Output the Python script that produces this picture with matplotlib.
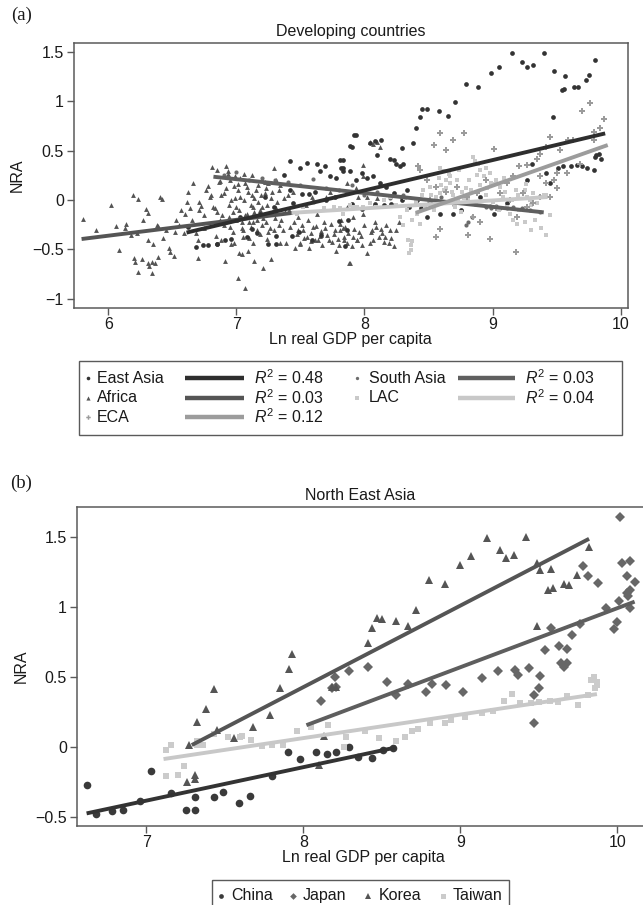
import matplotlib
matplotlib.use("Agg")
import matplotlib.pyplot as plt
from matplotlib.patches import Rectangle

plt.rcParams['font.family'] = ['Liberation Sans', 'DejaVu Sans']
plt.rcParams['mathtext.fontset'] = 'custom'
plt.rcParams['mathtext.rm'] = 'Liberation Sans'
plt.rcParams['mathtext.it'] = 'Liberation Sans:italic'

# ---------------- Panel (a) data ----------------
africa_x = [5.80,5.90,6.02,6.08,6.06,6.14,6.13,6.19,6.23,6.22,6.18,6.20,6.26,6.21,6.23,6.31,6.34,6.32,6.34,6.36,
            6.39,6.29,6.31,6.31,6.38,6.39,6.40,6.42,6.47,6.48,6.51,6.52,6.55,6.59,6.60,6.61,6.62,6.65,6.66,6.68,
            6.70,6.70,6.71,6.71,6.75,6.75,6.78,6.79,6.81,6.82,6.84,6.85,6.87,6.87,6.88,6.90,6.91,6.92,6.93,6.94,
            6.95,6.96,6.98,6.98,6.99,7.00,7.01,7.02,7.03,7.04,7.05,7.07,7.07,7.08,7.09,7.11,7.12,7.13,7.13,7.14,
            7.16,7.17,7.18,7.20,7.20,7.21,7.22,7.23,7.24,7.25,7.26,7.27,7.29,7.29,7.31,7.33,7.34,7.35,7.37,7.39,
            7.41,7.42,7.44,7.46,7.47,7.48,7.50,7.52,7.54,7.55,7.57,7.59,7.60,7.61,7.63,7.65,7.67,7.68,7.70,7.72,
            7.73,7.76,7.78,7.80,7.81,7.84,7.86,7.88,7.90,7.91,7.94,7.95,
            6.85,6.88,6.90,6.92,6.94,6.95,6.97,6.99,7.00,7.01,7.02,7.03,7.05,7.06,7.07,7.08,7.10,7.11,7.12,7.13,
            7.15,7.16,7.18,7.19,7.21,7.22,7.24,7.26,7.28,7.30,7.32,7.34,7.36,7.38,7.40,6.96,7.04,7.09,7.14,7.27,
            7.81,7.84,7.86,7.89,7.91,7.94,7.96,7.99,8.02,8.04,8.07,8.09,8.11,8.13,8.16,8.19,8.20,8.23,7.99,7.99,
            8.04,8.07,8.10,8.12,7.86,7.93,8.02,8.10,
            7.45,7.48,7.51,7.53,7.56,7.58,7.62,7.64,7.66,7.69,7.71,7.74,7.77,7.79,7.82,7.85,7.87,7.92,7.97,8.00,
            8.05,8.08,8.14,8.17,8.21,8.25,8.27,7.50,7.58,7.66,7.75,7.83,7.98,8.06,8.15,
            6.80,6.83,6.86,6.89,6.93,6.97,7.01,7.04,7.06,7.10,7.14,7.17,7.20,7.23,7.25,7.28,7.31,7.33,6.72,6.76,
            6.64,6.57,6.53,6.45,6.43,6.35,6.27]
africa_y = [-0.19,-0.30,-0.05,-0.51,-0.26,-0.24,-0.28,0.05,0.01,-0.33,-0.35,-0.59,-0.60,-0.63,-0.73,-0.64,-0.63,-0.67,-0.74,-0.64,
            -0.58,-0.09,-0.13,-0.40,-0.25,-0.26,0.03,0.01,-0.49,-0.53,-0.57,-0.32,-0.25,-0.33,-0.14,-0.02,0.08,-0.20,0.17,-0.33,
            -0.41,-0.59,-0.02,-0.10,-0.15,-0.28,0.14,0.03,0.33,-0.07,-0.36,0.30,-0.20,0.19,-0.41,0.07,-0.62,0.34,0.29,-0.17,
            -0.27,0.00,0.14,-0.44,0.24,-0.07,-0.79,-0.54,0.03,-0.22,-0.37,-0.89,0.17,-0.14,0.08,-0.27,0.25,-0.07,-0.44,0.02,
            -0.20,0.15,-0.34,0.20,-0.07,-0.69,0.07,-0.22,-0.39,0.17,-0.14,0.02,0.32,-0.30,-0.08,0.10,-0.44,-0.20,0.02,-0.44,
            -0.10,-0.27,0.08,-0.49,-0.34,-0.17,-0.44,-0.30,-0.05,-0.37,-0.49,0.03,-0.27,-0.41,-0.14,-0.36,-0.46,-0.22,0.03,-0.41,
            0.08,-0.34,-0.52,-0.46,-0.24,-0.37,-0.07,-0.64,-0.47,-0.17,-0.41,0.03,
            -0.12,0.05,-0.25,0.12,-0.05,0.20,-0.32,0.02,-0.20,0.10,-0.10,0.22,-0.30,0.00,-0.15,0.13,-0.38,-0.05,0.05,-0.22,
            0.10,-0.30,-0.10,0.05,-0.18,0.18,-0.05,-0.28,0.08,-0.18,-0.02,0.15,-0.30,-0.12,0.05,-0.45,-0.55,-0.52,-0.62,-0.60,
            -0.30,-0.41,-0.44,-0.64,-0.37,-0.41,-0.32,-0.14,-0.54,-0.44,-0.41,-0.27,-0.37,-0.29,-0.37,-0.44,-0.30,-0.47,0.24,0.35,
            0.59,0.57,0.59,0.54,0.17,0.12,0.03,0.02,
            -0.22,-0.30,-0.25,-0.38,-0.20,-0.33,-0.26,-0.40,-0.31,-0.28,-0.35,-0.24,-0.30,-0.39,-0.20,-0.27,-0.33,-0.29,-0.36,-0.25,
            -0.32,-0.22,-0.33,-0.25,-0.38,-0.30,-0.22,-0.45,-0.42,-0.35,-0.43,-0.28,-0.46,-0.30,-0.43,
            0.05,-0.08,0.18,-0.15,0.26,-0.12,0.16,-0.28,0.26,-0.22,-0.12,-0.02,-0.25,0.12,-0.32,-0.12,0.20,-0.25,-0.06,0.10,
            -0.08,-0.10,-0.20,-0.30,-0.38,-0.45,-0.20]

eastasia_x = [9.15,9.40,9.23,9.27,9.32,9.05,8.99,9.48,9.57,9.80,9.75,9.73,9.54,9.56,9.64,9.67,8.79,8.89,8.71,8.45,
              8.49,8.58,8.65,8.43,8.40,9.47,8.38,8.29,7.93,7.90,8.04,8.08,8.13,8.10,8.20,8.23,8.25,8.30,8.28,9.79,
              9.74,9.80,9.83,9.85,9.81,9.66,9.70,9.61,9.55,9.51,9.31,9.45,7.81,7.82,7.83,7.89,7.93,7.98,8.02,8.07,
              8.12,8.17,8.23,8.29,8.33,8.41,8.49,8.59,8.69,8.75,8.90,9.01,9.11,9.27,9.42,
              7.42,7.55,7.63,7.69,7.83,7.83,7.89,7.92,7.50,7.65,7.73,7.78,7.37,7.42,7.51,7.57,7.61,7.44,7.60,7.70,
              7.77,7.87,7.86,7.85,7.18,7.22,7.29,7.08,7.12,6.74,6.85,6.91,
              6.62,6.68,6.78,6.85,6.96,7.03,7.16,7.25,7.31,7.31,7.43,7.49,7.59,7.66,7.80,7.90,7.98,8.08,8.15,8.21,
              8.29,8.35,8.44,8.51,8.57]
eastasia_y = [1.49,1.49,1.40,1.35,1.37,1.35,1.29,1.31,1.26,1.42,1.27,1.22,1.11,1.12,1.15,1.15,1.18,1.15,0.99,0.92,
              0.92,0.90,0.85,0.84,0.73,0.84,0.58,0.53,0.66,0.54,0.58,0.60,0.61,0.46,0.42,0.41,0.36,0.37,0.34,0.30,
              0.32,0.44,0.47,0.42,0.46,0.35,0.34,0.34,0.34,0.32,0.37,0.17,0.41,0.32,0.29,0.29,0.20,0.27,0.22,0.24,
              0.17,0.13,0.07,0.03,0.10,0.00,-0.17,-0.14,-0.14,-0.10,0.03,-0.14,-0.03,0.20,0.27,
              0.40,0.38,0.37,0.34,0.41,0.32,0.55,0.66,0.32,0.29,0.24,0.22,0.25,0.10,0.06,0.06,0.08,-0.03,-0.02,0.00,
              0.03,-0.20,-0.30,-0.47,-0.14,0.03,-0.07,-0.37,-0.29,-0.46,-0.45,-0.41,
              -0.27,-0.48,-0.46,-0.45,-0.39,-0.17,-0.33,-0.45,-0.45,-0.36,-0.36,-0.32,-0.40,-0.35,-0.21,-0.04,-0.09,-0.04,-0.05,-0.04,
              0.00,-0.07,-0.08,-0.02,-0.01]

southasia_x = [8.79,8.81,8.84,8.95,8.98,8.99,9.03,9.06,9.11,9.16,9.23,9.29,9.37,7.20,7.30,7.40,7.50,7.60,7.70,7.80,
               7.90,8.00,8.10,8.20,8.30,8.40,8.50,8.60,8.70,6.90,7.00,7.10]
southasia_y = [-0.25,-0.22,-0.17,-0.07,-0.06,-0.08,-0.06,-0.08,-0.08,-0.07,-0.08,-0.10,-0.12,0.22,0.20,0.18,0.15,0.21,0.12,0.10,
               0.15,0.05,0.08,0.02,0.05,0.00,-0.02,0.03,-0.05,0.25,0.28,0.20]

lac_x = [8.34,8.36,8.36,8.35,8.37,8.28,8.30,8.33,8.37,8.41,8.43,8.47,8.50,8.54,8.56,8.59,8.62,8.64,8.67,8.69,
         8.71,8.73,8.76,8.79,8.81,8.85,8.86,8.89,8.90,8.93,8.95,8.98,8.99,9.03,9.06,9.08,9.11,9.14,9.16,9.19,
         9.21,9.25,9.27,9.29,9.32,9.35,9.37,9.40,9.42,8.59,8.62,8.64,8.67,8.46,8.51,8.20,8.15,8.09,8.04,7.99,
         7.94,7.89,7.81,7.47,7.52,7.60,7.68,7.76,7.83,7.91,9.33,9.38,9.42,9.45,9.30,
         8.52,8.55,8.60,8.63,8.68,8.72,8.75,8.78,8.83,8.87,8.90,8.95,9.00,9.05,9.10,9.15,9.20,9.25,9.30,
         8.58,8.66,8.74,8.82,8.88,8.96,9.02,9.09,9.18,9.26,8.45,8.40,8.32,8.25]
lac_y = [-0.41,-0.46,-0.51,-0.54,-0.42,-0.17,-0.25,-0.10,-0.20,-0.14,-0.24,-0.07,0.00,-0.10,0.03,0.07,0.10,0.12,0.17,0.05,
         -0.07,0.00,0.08,0.12,0.00,0.44,0.40,0.37,0.30,0.24,0.32,0.27,0.17,0.20,0.13,0.03,-0.07,-0.14,-0.20,-0.24,
         -0.10,-0.22,0.03,0.00,0.07,-0.03,0.03,0.05,0.05,0.32,0.29,0.20,0.24,0.10,0.13,0.03,0.00,-0.07,-0.03,-0.07,
         -0.07,-0.05,-0.08,-0.14,-0.07,-0.03,-0.08,-0.07,-0.14,-0.07,-0.20,-0.28,-0.35,-0.15,-0.30,
         0.05,-0.05,0.15,-0.02,0.08,0.20,-0.12,0.02,0.10,-0.05,0.15,0.05,-0.02,-0.10,0.08,0.00,0.05,0.10,-0.05,
         0.22,0.26,0.30,0.20,0.25,0.12,0.16,0.22,0.10,0.16,0.05,-0.02,0.02,-0.05]

eca_x = [8.59,8.78,8.69,8.64,8.54,8.42,9.01,9.76,9.70,9.87,9.84,9.79,9.63,9.59,9.45,9.53,9.42,9.37,9.35,9.27,
         9.21,9.50,9.45,9.37,9.32,9.27,9.19,9.18,8.98,8.90,8.85,8.81,8.56,8.59,9.06,9.11,9.16,8.95,8.88,8.80,
         8.72,8.64,8.56,8.49,8.43,8.51,9.03,9.14,9.24,9.37,9.42,9.48,9.58,9.68,9.79,9.50]
eca_y = [0.675,0.675,0.61,0.51,0.56,0.34,0.52,0.98,0.90,0.82,0.73,0.69,0.61,0.61,0.64,0.51,0.54,0.47,0.42,0.35,
         0.34,0.12,0.03,0.03,-0.03,-0.07,-0.17,-0.53,-0.39,-0.22,-0.17,-0.35,-0.37,-0.29,0.07,0.17,0.24,0.20,0.07,0.03,
         0.13,0.08,0.13,0.20,0.30,0.00,-0.08,0.00,0.07,0.24,0.17,0.20,0.27,0.37,0.61,0.27]

# fitted lines (endpoints)
fit_ea_x, fit_ea_y = [6.61, 9.88], [-0.33, 0.675]
fit_af_x, fit_af_y = [5.79, 7.44], [-0.395, -0.13]
fit_sa_x, fit_sa_y = [6.82, 9.40], [0.236, -0.125]
fit_lac_x, fit_lac_y = [7.43, 9.43], [-0.13, 0.03]
fit_eca_x, fit_eca_y = [8.40, 9.90], [-0.13, 0.557]

# ---------------- Panel (b) data ----------------
china_x = [6.62,6.68,6.78,6.85,6.96,7.03,7.16,7.25,7.31,7.31,7.43,7.49,7.59,7.66,7.80,7.90,7.98,8.08,8.15,8.21,
           8.29,8.35,8.44,8.51,8.57]
china_y = [-0.27,-0.48,-0.46,-0.45,-0.39,-0.17,-0.33,-0.45,-0.45,-0.36,-0.36,-0.32,-0.40,-0.35,-0.21,-0.04,-0.09,-0.04,-0.05,-0.04,
           0.00,-0.07,-0.08,-0.02,-0.01]
japan_x = [8.11,8.18,8.20,8.21,8.29,8.41,8.53,8.59,8.67,8.78,8.82,8.91,9.02,9.14,9.24,9.35,9.37,9.44,9.47,9.47,
           9.50,9.51,9.54,9.58,9.63,9.64,9.66,9.68,9.68,9.71,9.76,9.78,9.81,9.88,9.93,9.98,10.00,10.01,10.02,10.03,
           10.06,10.06,10.07,10.08,10.08,10.08,10.11]
japan_y = [0.33,0.42,0.50,0.43,0.54,0.57,0.46,0.37,0.45,0.39,0.45,0.44,0.39,0.49,0.54,0.55,0.51,0.56,0.17,0.37,
           0.42,0.505,0.69,0.85,0.72,0.595,0.57,0.595,0.695,0.80,0.88,1.29,1.22,1.17,0.99,0.84,0.89,1.04,1.64,1.31,
           1.22,1.10,1.08,1.33,1.12,0.99,1.18]
korea_x = [7.26,7.27,7.31,7.31,7.32,7.38,7.43,7.45,7.56,7.68,7.79,7.85,7.91,7.93,8.10,8.13,8.18,8.21,8.41,8.44,
           8.47,8.50,8.59,8.67,8.72,8.80,8.90,9.00,9.065,9.17,9.25,9.29,9.34,9.42,9.49,9.49,9.51,9.58,9.56,9.59,
           9.66,9.69,9.74,9.82]
korea_y = [-0.25,0.01,-0.20,-0.23,0.18,0.27,0.41,0.12,0.06,0.14,0.23,0.42,0.555,0.665,-0.13,0.08,0.43,0.43,0.74,0.845,
           0.92,0.915,0.90,0.86,0.98,1.19,1.16,1.30,1.36,1.49,1.405,1.35,1.37,1.495,1.31,0.86,1.26,1.27,1.12,1.135,
           1.165,1.155,1.225,1.43]
taiwan_x = [7.125,7.16,7.125,7.20,7.24,7.32,7.32,7.36,7.43,7.52,7.595,7.61,7.67,7.74,7.80,7.87,7.96,8.05,8.16,8.27,
            8.26,8.39,8.48,8.59,8.65,8.69,8.73,8.81,8.90,8.94,9.03,9.14,9.21,9.28,9.33,9.38,9.45,9.50,9.57,9.62,
            9.68,9.75,9.81,9.83,9.85,9.86,9.87,9.87]
taiwan_y = [-0.02,0.01,-0.21,-0.20,-0.14,0.04,0.01,0.01,0.09,0.07,0.07,0.08,0.05,0.005,0.01,0.01,0.11,0.14,0.155,0.07,
            0.00,0.11,0.06,0.04,0.07,0.11,0.13,0.17,0.17,0.19,0.21,0.24,0.255,0.33,0.38,0.31,0.31,0.32,0.33,0.32,
            0.36,0.30,0.37,0.48,0.50,0.42,0.44,0.46]
fit_china_x, fit_china_y = [6.62, 8.59], [-0.476, -0.005]
fit_japan_x, fit_japan_y = [8.02, 10.11], [0.154, 1.036]
fit_korea_x, fit_korea_y = [7.29, 9.82], [0.012, 1.485]
fit_taiwan_x, fit_taiwan_y = [7.11, 9.87], [-0.088, 0.376]

xticks_a = [6, 7, 8, 9, 10]
yticks_a = [-1, -0.5, 0, 0.5, 1, 1.5]
yticklabels_a = ['\u22121', '\u22120.5', '0', '0.5', '1', '1.5']
xticks_b = [7, 8, 9, 10]
yticks_b = [-0.5, 0, 0.5, 1, 1.5]
yticklabels_b = ['\u22120.5', '0', '0.5', '1', '1.5']

legend_a = [('East Asia', 'R2 = 0.48'), ('South Asia', 'R2 = 0.03'),
            ('Africa', 'R2 = 0.03'), ('LAC', 'R2 = 0.04'), ('ECA', 'R2 = 0.12')]

# ---------------- styling ----------------
C_EA, C_AF, C_SA, C_LAC, C_ECA = '#333333', '#545454', '#6c6c6c', '#c9c9c9', '#9b9b9b'
L_EA, L_AF, L_SA, L_LAC, L_ECA = '#2e2e2e', '#555555', '#5f5f5f', '#c8c8c8', '#9c9c9c'
SPINE = '#5a5a5a'
TXT = '#1a1a1a'
FS = 11.5
W, H = 643, 905

fig = plt.figure(figsize=(W / 100, H / 100), dpi=100)

def px_axes(l, t, r, b):
    return [l / W, 1 - b / H, (r - l) / W, (b - t) / H]

def style_axes(ax):
    for s in ax.spines.values():
        s.set_color(SPINE)
        s.set_linewidth(1.1)
    ax.tick_params(direction='out', length=5, width=1, color=SPINE, labelsize=FS,
                   labelcolor=TXT, pad=2)

# Panel (a)
ax1 = fig.add_axes(px_axes(73.5, 42.7, 627.7, 307.7))
ax1.plot(africa_x, africa_y, linestyle='none', marker='^', ms=3.5, mfc=C_AF, mec=C_AF, mew=0)
ax1.plot(eastasia_x, eastasia_y, linestyle='none', marker='o', ms=3.4, mfc=C_EA, mec=C_EA, mew=0)
ax1.plot(southasia_x, southasia_y, linestyle='none', marker='o', ms=3.0, mfc=C_SA, mec=C_SA, mew=0)
ax1.plot(lac_x, lac_y, linestyle='none', marker='s', ms=3.4, mfc=C_LAC, mec=C_LAC, mew=0)
ax1.plot(eca_x, eca_y, linestyle='none', marker='P', ms=3.9, mfc=C_ECA, mec=C_ECA, mew=0)
ax1.plot(fit_af_x, fit_af_y, color=L_AF, lw=2.8, solid_capstyle='butt')
ax1.plot(fit_sa_x, fit_sa_y, color=L_SA, lw=2.8, solid_capstyle='butt')
ax1.plot(fit_lac_x, fit_lac_y, color=L_LAC, lw=2.8, solid_capstyle='butt')
ax1.plot(fit_eca_x, fit_eca_y, color=L_ECA, lw=2.8, solid_capstyle='butt')
ax1.plot(fit_ea_x, fit_ea_y, color=L_EA, lw=2.8, solid_capstyle='butt')
ax1.set_xlim(5.727, 10.056)
ax1.set_ylim(-1.091, 1.594)
ax1.set_xticks(xticks_a)
ax1.set_yticks(yticks_a)
ax1.set_yticklabels(yticklabels_a)
style_axes(ax1)
ax1.set_xlabel('Ln real GDP per capita', fontsize=FS, labelpad=0, color=TXT)
ax1.set_ylabel('NRA', fontsize=FS, labelpad=5, color=TXT)
ax1.set_title('Developing countries', fontsize=FS, pad=5, color=TXT)

# Panel (b)
ax2 = fig.add_axes(px_axes(76.7, 507.3, 650, 825.7))
ax2.plot(china_x, china_y, linestyle='none', marker='o', ms=5.5, mfc='#3a3a3a', mec='#3a3a3a', mew=0)
ax2.plot(japan_x, japan_y, linestyle='none', marker='D', ms=5.3, mfc='#676767', mec='#676767', mew=0)
ax2.plot(korea_x, korea_y, linestyle='none', marker='^', ms=6.2, mfc='#555555', mec='#555555', mew=0)
ax2.plot(taiwan_x, taiwan_y, linestyle='none', marker='s', ms=5.0, mfc='#cbcbcb', mec='#cbcbcb', mew=0)
ax2.plot(fit_taiwan_x, fit_taiwan_y, color='#c8c8c8', lw=2.8, solid_capstyle='butt')
ax2.plot(fit_china_x, fit_china_y, color='#333333', lw=2.8, solid_capstyle='butt')
ax2.plot(fit_japan_x, fit_japan_y, color='#5e5e5e', lw=2.8, solid_capstyle='butt')
ax2.plot(fit_korea_x, fit_korea_y, color='#555555', lw=2.8, solid_capstyle='butt')
ax2.set_xlim(6.557, 10.208)
ax2.set_ylim(-0.564, 1.71)
ax2.set_xticks(xticks_b)
ax2.set_yticks(yticks_b)
ax2.set_yticklabels(yticklabels_b)
style_axes(ax2)
ax2.set_xlabel('Ln real GDP per capita', fontsize=FS, labelpad=0, color=TXT)
ax2.set_ylabel('NRA', fontsize=FS, labelpad=5, color=TXT)
ax2.set_title('North East Asia', fontsize=FS, pad=5, color=TXT, x=(360 - 76.7) / (650 - 76.7))

# Overlay for panel labels and legends (pixel coordinates)
ov = fig.add_axes([0, 0, 1, 1], zorder=5)
ov.set_xlim(0, W)
ov.set_ylim(H, 0)
ov.axis('off')
ov.text(22, 15, '(a)', fontsize=13.5, family='Liberation Serif', ha='center', va='center', color=TXT)
ov.text(21, 483, '(b)', fontsize=13.5, family='Liberation Serif', ha='center', va='center', color=TXT)

# legend (a)
ov.add_patch(Rectangle((78.7, 360.7), 543, 74.3, fill=False, ec=SPINE, lw=1))
rows = [378, 397.5, 417]
mk = {'East Asia': ('o', C_EA, 2.6), 'Africa': ('^', C_AF, 3.0), 'South Asia': ('o', C_SA, 2.4),
      'LAC': ('s', C_LAC, 2.8), 'ECA': ('P', C_ECA, 3.2)}
lc = {'East Asia': L_EA, 'Africa': L_AF, 'South Asia': L_SA, 'LAC': L_LAC, 'ECA': L_ECA}
positions = {'East Asia': (0, 0), 'South Asia': (0, 1), 'Africa': (1, 0), 'LAC': (1, 1), 'ECA': (2, 0)}
colx = [(88, 97, 185, 244, 254), (357, 369, 458, 515, 525)]
for name, r2 in legend_a:
    r, c = positions[name]
    mx, tx, l0, l1, rx = colx[c]
    y = rows[r]
    m, col, ms = mk[name]
    ov.plot([mx], [y], marker=m, ms=ms, color=col, mew=0, linestyle='none')
    ov.text(tx, y, name, fontsize=FS, va='center', ha='left', color=TXT)
    ov.plot([l0, l1], [y, y], color=lc[name], lw=3.2, solid_capstyle='butt')
    ov.text(rx, y, '$R^2$ = ' + r2.split('= ')[1], fontsize=FS, va='center', ha='left', color=TXT)

# legend (b)
ov.add_patch(Rectangle((212, 880), 297, 40, fill=False, ec=SPINE, lw=1))
items_b = [('China', 'o', '#3a3a3a', 3.4, 221, 231.5), ('Japan', 'D', '#676767', 3.4, 293, 303),
           ('Korea', '^', '#555555', 3.8, 367.6, 379), ('Taiwan', 's', '#cbcbcb', 3.6, 442.6, 453)]
for name, m, col, ms, mx, tx in items_b:
    ov.plot([mx], [895.5], marker=m, ms=ms, color=col, mew=0, linestyle='none')
    ov.text(tx, 895.5, name, fontsize=FS, va='center', ha='left', color=TXT)

fig.savefig('out.png', dpi=100)
